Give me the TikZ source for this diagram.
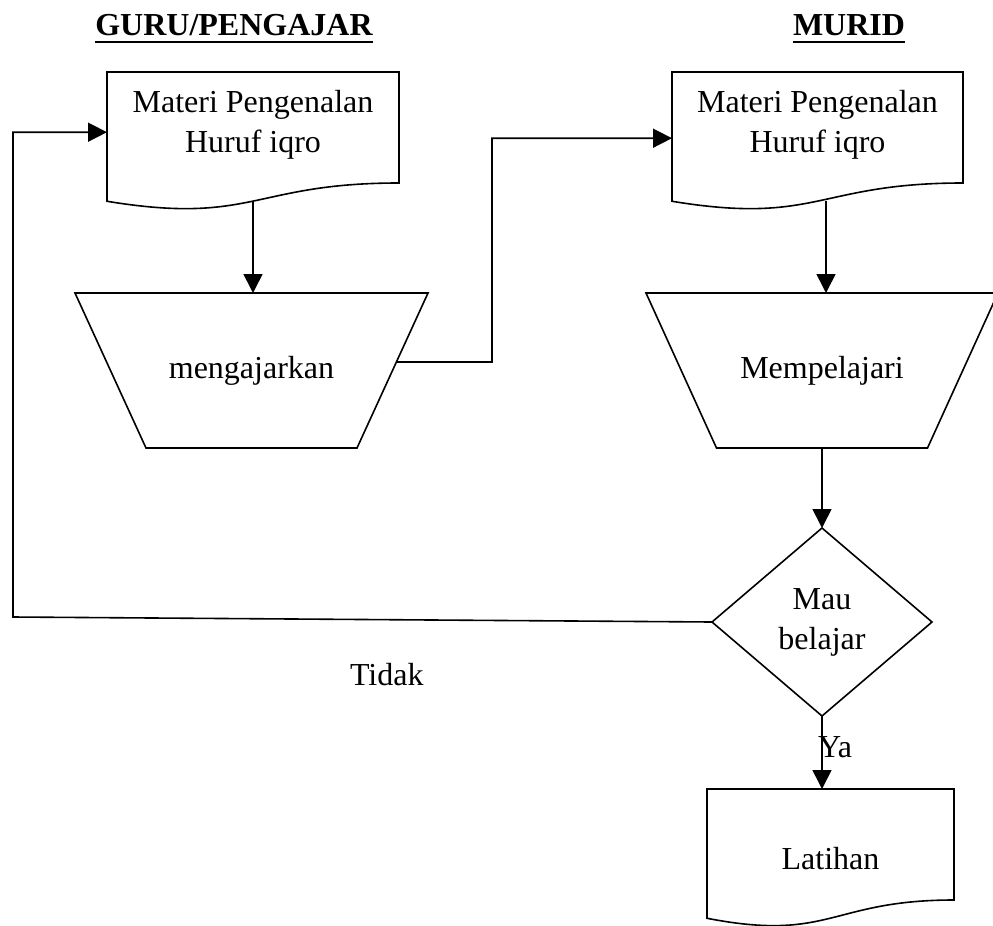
\documentclass[tikz,border=0pt]{standalone}
\usepackage{fontspec}
\setmainfont{Liberation Serif}
\usetikzlibrary{calc,shapes.geometric,arrows.meta}
\newcommand\mydocshape[1]{\draw[outline] (#1.north west) -- (#1.north east) -- ($(#1.north east)!0.802!(#1.south east)$) .. controls ($(#1.north)!0.802!(#1.south)$) and ($(#1.north)!1.1075!(#1.south)$) .. ($(#1.north west)!0.934!(#1.south west)$) -- cycle;}
\begin{document}
\begin{tikzpicture}[x=1pt,y=-1pt,
  every node/.style={font=\fontsize{32}{40}\selectfont, inner sep=0pt, outer sep=0pt},
  docframe/.style={draw=none, rectangle, minimum width=#1, minimum height=138.4pt, align=center},
  outline/.style={draw, line width=1.6pt, line join=miter},
  arr/.style={draw, line width=1.6pt, -{Triangle[length=19pt,width=19pt]}},
  conn/.style={draw, line width=1.6pt},
  trapframe/.style={draw=none, rectangle, minimum width=#1, minimum height=155pt, align=center},
  decision/.style={diamond, draw, line width=1.6pt, minimum width=220pt, minimum height=188pt, aspect=1.17, align=center},
  head/.style={font=\fontsize{32}{40}\selectfont\bfseries, anchor=base},
  txt/.style={align=center}
]
\useasboundingbox (0,0) rectangle (993,926);

% headers
\node[head] (h1) at (234,35) {GURU/PENGAJAR};
\node[head] (h2) at (849,35) {MURID};
\draw[line width=2.6pt] ($(h1.base west)+(0,7)$) -- ($(h1.base east)+(0,7)$);
\draw[line width=2.6pt] ($(h2.base west)+(0,7)$) -- ($(h2.base east)+(0,7)$);

% document 1
\node[docframe=292pt] (d1) at (253,141.2) {};
\mydocshape{d1}
\node[txt] (d1t) at (253,125) {Materi Pengenalan\\Huruf iqro};

% document 2
\node[docframe=291pt] (d2) at (817.5,141.2) {};
\mydocshape{d2}
\node[txt] (d2t) at (817.5,125) {Materi Pengenalan\\Huruf iqro};

% trapezoid 1
\node[trapframe=353pt] (t1) at (251.5,370.5) {mengajarkan};
\coordinate (t1se) at ($(t1.south east)+(-71,0)$);
\coordinate (t1sw) at ($(t1.south west)+(71,0)$);
\draw[outline] (t1.north west) -- (t1.north east) -- (t1se) -- (t1sw) -- cycle;
\coordinate (t1r) at ($(t1.north east)!0.445!(t1se)$);

% trapezoid 2
\node[trapframe=352pt] (t2) at (822,370.5) {Mempelajari};
\coordinate (t2se) at ($(t2.south east)+(-70.5,0)$);
\coordinate (t2sw) at ($(t2.south west)+(70.5,0)$);
\draw[outline] (t2.north west) -- (t2.north east) -- (t2se) -- (t2sw) -- cycle;

% decision
\node[decision] (dia) at (822,622) {Mau\\belajar};

% document Latihan
\node[docframe=247pt] (lt) at (830.5,858.2) {Latihan};
\mydocshape{lt}

% labels
\node[anchor=base west] (tidak) at (350,685) {Tidak};
\node[anchor=base west] (ya) at (818,757) {Ya};

% connectors
\coordinate (d1b) at ($(d1.north)!0.93!(d1.south)$);
\draw[arr] (d1b) -- (d1b |- t1.north);
\coordinate (d2b) at ($(d2.north)!0.93!(d2.south)+(8.5,0)$);
\draw[arr] (d2b) -- (d2b |- t2.north);
\draw[arr] (t1r) -- (492,362) |- ($(d2.west)+(0,-3)$);
\draw[arr] (t2.south) -- (dia.north);
\draw[arr] (dia.south) -- (dia.south |- lt.north);
\draw[arr] (dia.west) -- (13,617) |- ($(d1.west)+(0,-9)$);
\end{tikzpicture}
\end{document}
